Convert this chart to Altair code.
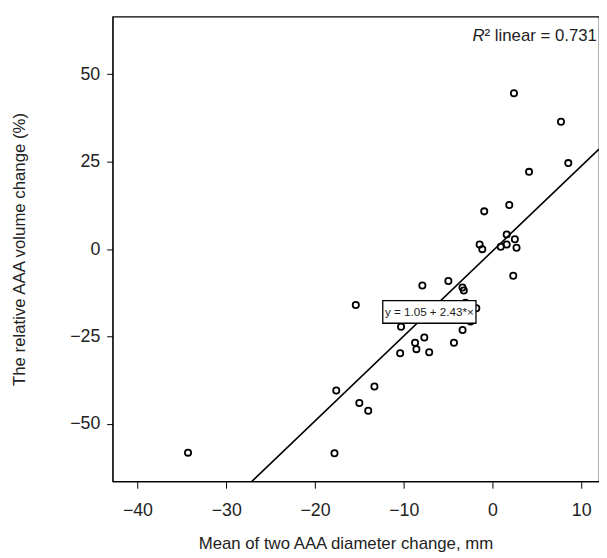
import altair as alt
import pandas as pd

# ---- data ----
x_vals = [2.42, 7.72, 4.12, 8.54, 1.89, -0.93, 1.6, 2.52, -1.45, -1.15, 0.93, 1.6,
          2.71, 2.34, -7.9, -4.97, -3.38, -3.23, -15.4, -3.04, -1.82, -2.48, -10.3,
          -7.68, -8.72, -8.57, -4.34, -3.37, -10.4, -7.13, -17.6, -13.3, -15.0, -14.0,
          -34.3, -17.8]
y_vals = [44.6, 36.4, 22.1, 24.6, 12.6, 10.8, 4.2, 2.8, 1.3, 0.0, 0.7, 1.3,
          0.4, -7.6, -10.4, -9.1, -11.0, -11.8, -16.0, -15.3, -16.9, -20.7, -22.2,
          -25.3, -26.8, -28.6, -26.8, -23.1, -29.8, -29.5, -40.4, -39.3, -44.0, -46.2,
          -58.2, -58.4]
# fitted line as drawn in the picture (label states y = 1.05 + 2.43*x)
line_intercept = -0.55
line_slope = 2.43
x_domain = [-42.8, 12.0]
y_domain = [-66.4, 66.5]
x_ticks = [-40, -30, -20, -10, 0, 10]
y_ticks = [-50, -25, 0, 25, 50]
eq_text = ["y = 1.05 + 2.43*×"]
eq_box_x = [-12.36, -1.86]
eq_box_y = [-21.2, -14.7]
r2_text = "² linear = 0.731"

FONT = "Liberation Sans"
W, H = 493, 471

pts = pd.DataFrame({"x": x_vals, "y": y_vals})
line_df = pd.DataFrame({"x": x_domain})
box_df = pd.DataFrame({"x1": [eq_box_x[0]], "x2": [eq_box_x[1]],
                       "y1": [eq_box_y[0]], "y2": [eq_box_y[1]],
                       "t": eq_text,
                       "xc": [(eq_box_x[0] + eq_box_x[1]) / 2],
                       "yc": [(eq_box_y[0] + eq_box_y[1]) / 2]})

xscale = alt.Scale(domain=x_domain, nice=False, zero=False)
yscale = alt.Scale(domain=y_domain, nice=False, zero=False)

xaxis = alt.Axis(values=x_ticks, title="Mean of two AAA diameter change, mm", grid=False,
                 tickSize=7, tickColor="black", domainColor="black", labelColor="#222",
                 labelFontSize=18, labelFont=FONT, labelPadding=14,
                 titleFont=FONT, titleFontSize=17, titleFontWeight="normal",
                 titleColor="#222", titleY=63, titleX=236, titleBaseline="middle")
yaxis = alt.Axis(values=y_ticks, title="The relative AAA volume change (%)", grid=False,
                 tickSize=6, tickColor="black", domainColor="black", labelColor="#222",
                 labelFontSize=18, labelFont=FONT, labelPadding=7,
                 titleFont=FONT, titleFontSize=17, titleFontWeight="normal",
                 titleColor="#222", titleX=-94, titleY=H / 2, titleBaseline="middle",
                 titleAlign="center", titleAngle=-90)


def X(field):
    return alt.X(field, scale=xscale, axis=xaxis)


def Y(field):
    return alt.Y(field, scale=yscale, axis=yaxis)


points = alt.Chart(pts).mark_point(shape="circle", filled=False, color="black",
                                   strokeWidth=1.8, size=40, opacity=1).encode(
    x=X("x:Q"), y=Y("y:Q"),
)

fit = alt.Chart(line_df).mark_line(color="black", strokeWidth=1.6, clip=True).transform_calculate(
    yy=f"{line_intercept} + {line_slope} * datum.x"
).encode(x=X("x:Q"), y=Y("yy:Q"))

box = alt.Chart(box_df).mark_rect(fill="white", stroke="black", strokeWidth=1.3).encode(
    x=X("x1:Q"), x2="x2:Q", y=Y("y1:Q"), y2="y2:Q",
)
box_text = alt.Chart(box_df).mark_text(font=FONT, fontSize=11.8, color="#222",
                                       align="center", baseline="middle").encode(
    x=X("xc:Q"), y=Y("yc:Q"), text="t:N",
)

r_text = alt.Chart(pd.DataFrame({"t": ["R"]})).mark_text(
    font=FONT, fontSize=17, fontStyle="italic", color="#222", align="right", baseline="middle"
).encode(x=alt.value(377), y=alt.value(20), text="t:N")
r2 = alt.Chart(pd.DataFrame({"t": [r2_text]})).mark_text(
    font=FONT, fontSize=17, color="#222", align="left", baseline="middle"
).encode(x=alt.value(377), y=alt.value(20), text="t:N")

chart = alt.layer(points, fit, box, box_text, r_text, r2).properties(
    width=W, height=H,
    autosize=alt.AutoSizeParams(type="none"),
    padding={"left": 106, "top": 5, "right": 0, "bottom": 74},
).configure(background="white").configure_view(stroke="black", strokeWidth=1.2)

chart.save("out.html", embed_options={"renderer": "svg", "actions": False})
